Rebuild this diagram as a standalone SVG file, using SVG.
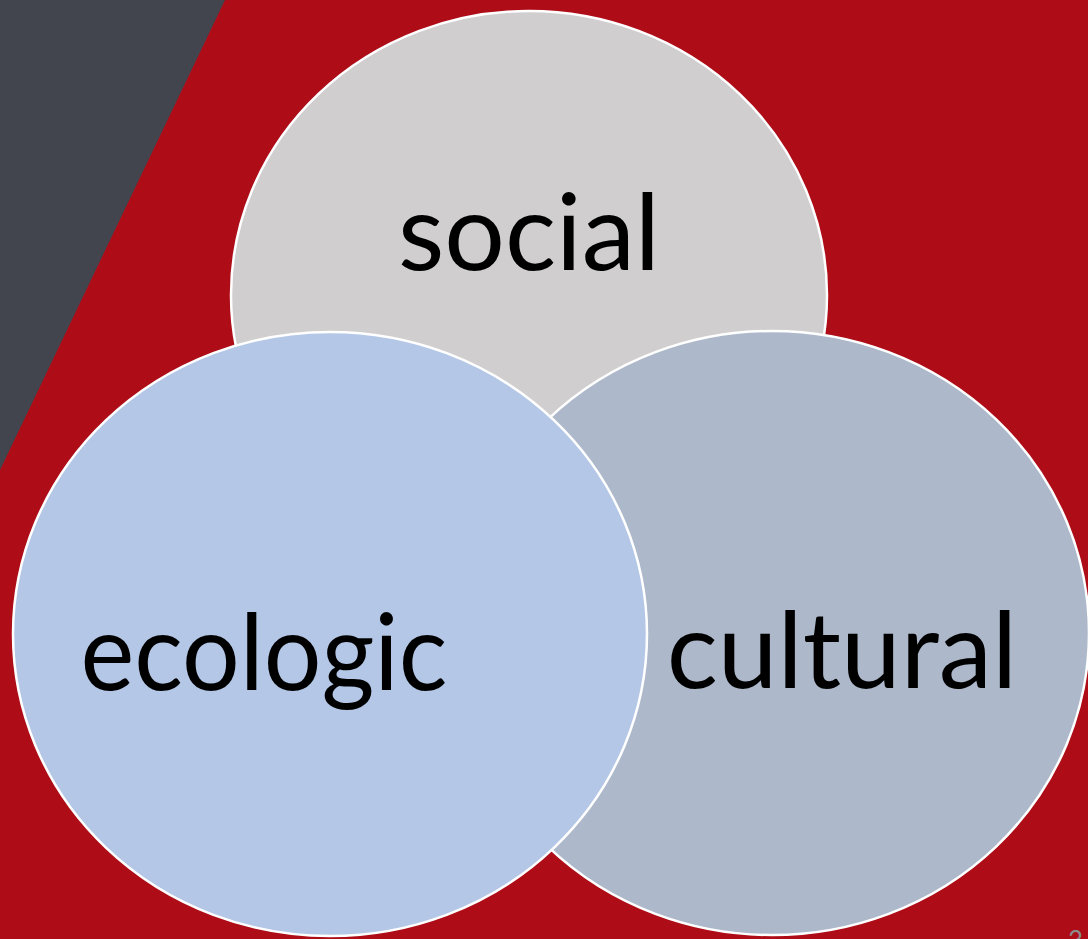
<svg xmlns="http://www.w3.org/2000/svg" width="1088" height="939" viewBox="0 0 1088 939">
<style>
.c{stroke:#FFFFFF;stroke-width:2.5}
.t{font-family:Lato,"Liberation Sans",sans-serif;font-size:107px;fill:#000000}
</style>
<rect x="0" y="0" width="1088" height="939" fill="#AE0D18"/>
<polygon points="0,0 225,0 0,470" fill="#42454E"/>
<g id="social">
<ellipse class="c" cx="529" cy="295" rx="298" ry="284" fill="#D0CECE"/>
<text class="t" x="529" y="270" text-anchor="middle">social</text>
</g>
<g id="cultural">
<ellipse class="c" cx="772" cy="633" rx="317" ry="302" fill="#ADB9CA"/>
<text class="t" x="842" y="688" text-anchor="middle">cultural</text>
</g>
<g id="ecologic">
<ellipse class="c" cx="330" cy="634" rx="317" ry="302" fill="#B4C7E7"/>
<text class="t" x="264" y="690" text-anchor="middle" textLength="367" lengthAdjust="spacingAndGlyphs">ecologic</text>
</g>
<g id="connectors"/>
<text x="1068" y="950" font-family="Lato,'Liberation Sans',sans-serif" font-size="26" fill="#8C8C8C">3</text>
</svg>
